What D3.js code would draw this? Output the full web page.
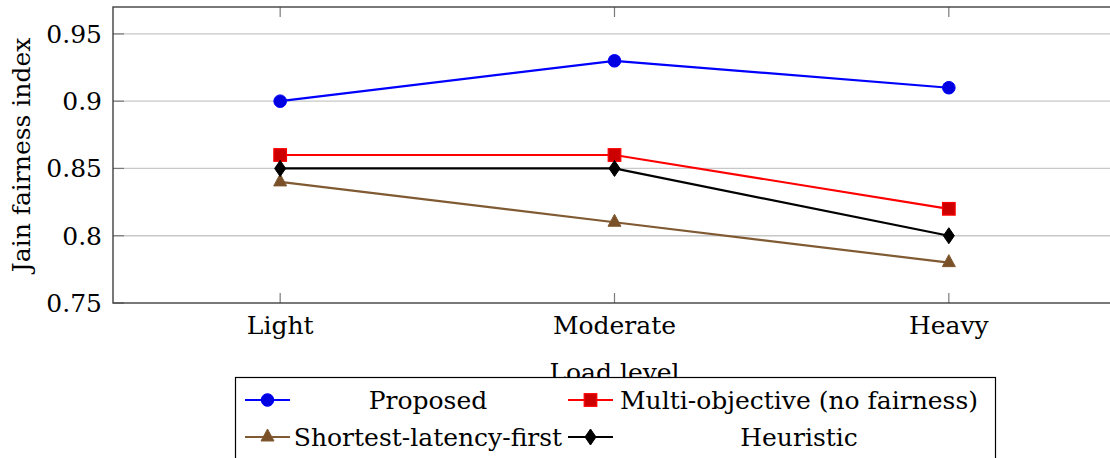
<!DOCTYPE html>
<html>
<head>
<meta charset="utf-8">
<script src="https://cdn.jsdelivr.net/npm/d3@7"></script>
<style>
  body { margin: 0; background: #fff; }
  svg { display: block; }
  text { fill: #000; }
</style>
</head>
<body>
<svg id="chart" width="1110" height="458"></svg>
<script>
// Chart data
const loadLevels = ['Light', 'Moderate', 'Heavy']
const yTicks = [0.75, 0.8, 0.85, 0.9, 0.95]

const proposed = [0.90, 0.93, 0.91]
const multiObjective = [0.86, 0.86, 0.82]
const shortestLatency = [0.84, 0.81, 0.78]
const heuristic = [0.85, 0.85, 0.80]

const series = [
  { name: 'Proposed', values: proposed, color: '#0000ff', fill: '#0000e0', mark: 'circle' },
  { name: 'Multi-objective (no fairness)', values: multiObjective, color: '#ff0000', fill: '#cc0000', mark: 'square' },
  { name: 'Shortest-latency-first', values: shortestLatency, color: '#7f5a32', fill: '#7a5028', mark: 'triangle' },
  { name: 'Heuristic', values: heuristic, color: '#000000', fill: '#000000', mark: 'diamond' }
]

const FONT = "'DejaVu Serif'"
const FONT_SIZE = '25px'

const svg = d3.select('#chart')
const plotLeft = 113, plotRight = 1116, plotTop = 7, plotBottom = 303

const x = d3.scalePoint().domain(loadLevels).range([plotLeft, plotRight]).padding(0.5)
const y = d3.scaleLinear().domain([0.75, 0.97]).range([plotBottom, plotTop])

// Grid lines
svg.append('g')
  .selectAll('line')
  .data(yTicks.slice(1))
  .join('line')
  .attr('x1', plotLeft).attr('x2', plotRight)
  .attr('y1', d => y(d)).attr('y2', d => y(d))
  .attr('stroke', '#c8c8c8')
  .attr('stroke-width', 1.3)

// Inner ticks
const tickColor = '#7a7a7a'
svg.append('g')
  .selectAll('line')
  .data(yTicks)
  .join('line')
  .attr('x1', plotLeft).attr('x2', plotLeft + 11)
  .attr('y1', d => y(d)).attr('y2', d => y(d))
  .attr('stroke', tickColor).attr('stroke-width', 1.2)

loadLevels.forEach(c => {
  svg.append('line')
    .attr('x1', x(c)).attr('x2', x(c))
    .attr('y1', plotBottom).attr('y2', plotBottom - 10)
    .attr('stroke', tickColor).attr('stroke-width', 1.2)
  svg.append('line')
    .attr('x1', x(c)).attr('x2', x(c))
    .attr('y1', plotTop).attr('y2', plotTop + 10)
    .attr('stroke', tickColor).attr('stroke-width', 1.2)
})

// Frame
svg.append('rect')
  .attr('x', plotLeft).attr('y', plotTop)
  .attr('width', plotRight - plotLeft).attr('height', plotBottom - plotTop)
  .attr('fill', 'none')
  .attr('stroke', '#404040')
  .attr('stroke-width', 1.4)

// Tick labels
svg.append('g')
  .selectAll('text')
  .data(yTicks)
  .join('text')
  .attr('x', plotLeft - 11)
  .attr('y', d => y(d) + 9)
  .attr('text-anchor', 'end')
  .style('font-family', FONT)
  .style('font-size', FONT_SIZE)
  .text(d => d3.format('')(d))

svg.append('g')
  .selectAll('text')
  .data(loadLevels)
  .join('text')
  .attr('x', d => x(d))
  .attr('y', 334)
  .attr('text-anchor', 'middle')
  .style('font-family', FONT)
  .style('font-size', FONT_SIZE)
  .text(d => d)

// Axis titles
svg.append('text')
  .attr('transform', `translate(30, ${(plotTop + plotBottom) / 2}) rotate(-90)`)
  .attr('text-anchor', 'middle')
  .style('font-family', FONT)
  .style('font-size', FONT_SIZE)
  .text('Jain fairness index')

svg.append('text')
  .attr('x', (plotLeft + plotRight) / 2)
  .attr('y', 381)
  .attr('text-anchor', 'middle')
  .style('font-family', FONT)
  .style('font-size', FONT_SIZE)
  .text('Load level')

// Marker drawing
function drawMark (g, s, cx, cy) {
  if (s.mark === 'circle') {
    g.append('circle').attr('cx', cx).attr('cy', cy).attr('r', 6.3)
      .attr('fill', s.fill).attr('stroke', s.color).attr('stroke-width', 1)
  } else if (s.mark === 'square') {
    g.append('rect').attr('x', cx - 6.3).attr('y', cy - 6.3).attr('width', 12.6).attr('height', 12.6)
      .attr('fill', s.fill).attr('stroke', s.color).attr('stroke-width', 1.2)
  } else if (s.mark === 'triangle') {
    g.append('path').attr('d', `M${cx},${cy - 8}L${cx + 6.5},${cy + 4}L${cx - 6.5},${cy + 4}Z`)
      .attr('fill', s.fill).attr('stroke', s.color).attr('stroke-width', 1)
  } else {
    g.append('path').attr('d', `M${cx},${cy - 8}L${cx + 5.5},${cy}L${cx},${cy + 8}L${cx - 5.5},${cy}Z`)
      .attr('fill', s.fill).attr('stroke', s.color).attr('stroke-width', 1)
  }
}

// Series lines and markers
const line = d3.line().x((d, i) => x(loadLevels[i])).y(d => y(d))
series.forEach(s => {
  const g = svg.append('g')
  g.append('path')
    .attr('d', line(s.values))
    .attr('fill', 'none')
    .attr('stroke', s.color)
    .attr('stroke-width', 2.2)
  s.values.forEach((v, i) => drawMark(g, s, x(loadLevels[i]), y(v)))
})

// Legend
const legend = svg.append('g')
legend.append('rect')
  .attr('x', 235.5).attr('y', 377.5)
  .attr('width', 760).attr('height', 100)
  .attr('fill', '#fff')
  .attr('stroke', '#000')
  .attr('stroke-width', 1.2)

const cols = [{ lx: 245, tx: 428 }, { lx: 568, tx: 799 }]
const rows = [400, 437]
series.forEach((s, i) => {
  const col = cols[i % 2], ry = rows[Math.floor(i / 2)]
  legend.append('line')
    .attr('x1', col.lx).attr('x2', col.lx + 45)
    .attr('y1', ry).attr('y2', ry)
    .attr('stroke', s.color).attr('stroke-width', 2.2)
  drawMark(legend, s, col.lx + 22.5, ry)
  legend.append('text')
    .attr('x', col.tx).attr('y', ry + 9)
    .attr('text-anchor', 'middle')
    .style('font-family', FONT)
    .style('font-size', FONT_SIZE)
    .text(s.name)
})
</script>
</body>
</html>
